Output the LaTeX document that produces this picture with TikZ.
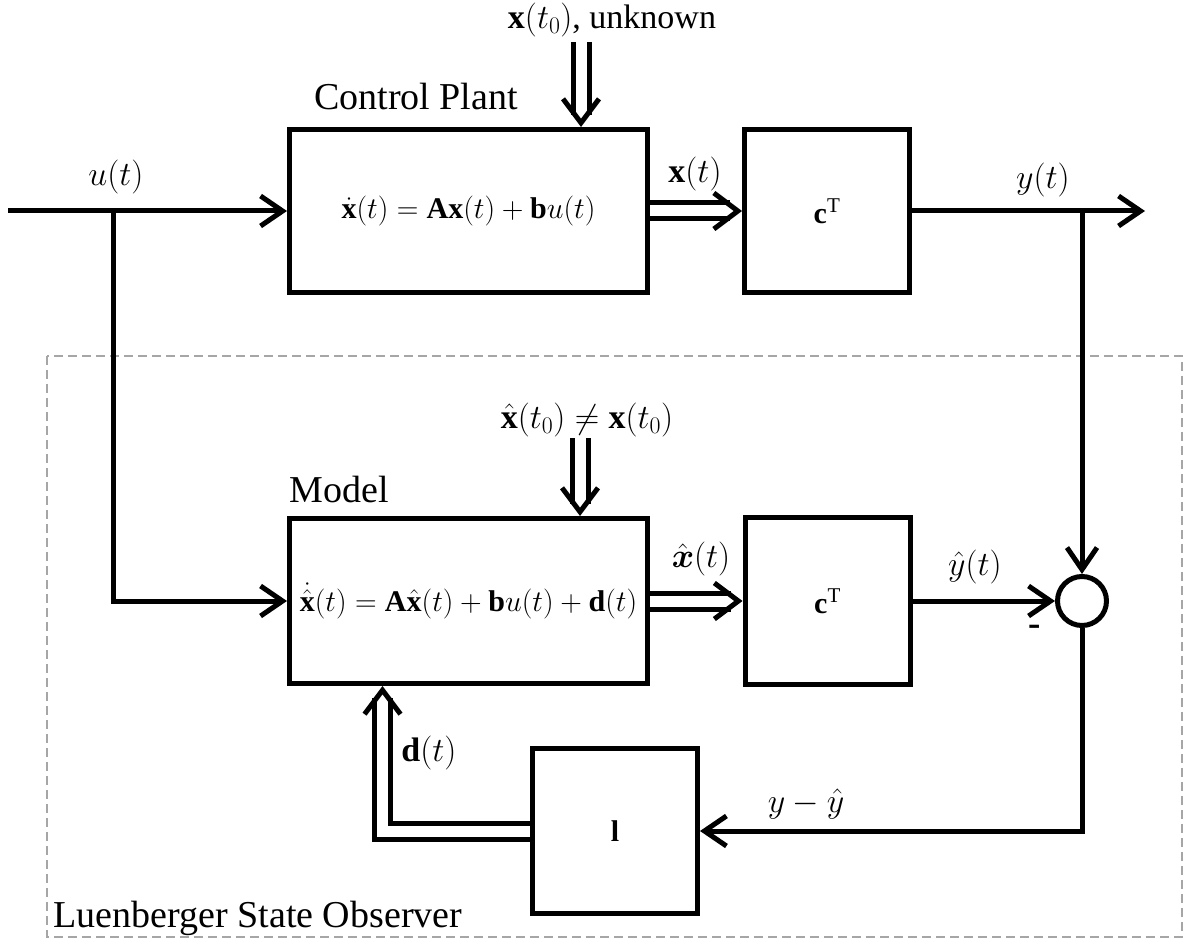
\RequirePackage{fix-cm}
\documentclass[tikz,border=0pt]{standalone}
\usepackage{amsmath}
\usepackage{fontspec}
\setmainfont{Liberation Serif}
\usetikzlibrary{positioning, calc, arrows.meta}
\tikzset{
  blk/.style={draw, line width=5pt, rectangle, inner sep=0pt},
  sig/.style={line width=5pt, -{Straight Barb[length=22pt, width=30pt]}},
  dbl/.style={double, double distance=11pt, line width=5pt, shorten >=12pt},
  dbltip/.style={draw=white, line width=5pt, shorten <=20pt, -{Straight Barb[color=black, length=24pt, width=36pt]}},
  lbl/.style={font=\fontsize{34}{40}\selectfont},
  ttl/.style={font=\fontsize{38}{42}\selectfont},
  eqn/.style={font=\fontsize{30}{36}\selectfont},
  gain/.style={font=\fontsize{30}{32}\selectfont},
}

\begin{document}
\begin{tikzpicture}[x=1pt, y=-1pt]
    \useasboundingbox (0,0) rectangle (1184,941);
    % observer frame
    \draw[gray!70, line width=1.2pt, dash pattern=on 9pt off 5pt] (47,356) rectangle (1182,937);
    \node[ttl, anchor=west] (obs) at (50,918) {Luenberger State Observer};

    % plant
    \node[blk, eqn, minimum width=358pt, minimum height=163pt] (plant) at (468.5,211) {$\dot{\mathbf{x}}(t) = \mathbf{A}\mathbf{x}(t)+\mathbf{b}u(t)$};
    \node[blk, gain, minimum width=165pt, minimum height=163pt] (ctop) at (827,211) {$\mathbf{c}^{\mathrm{T}}$};
    \node[ttl] (plantTtl) at (416,97) {Control Plant};
    \node[lbl] (xzero) at (612,20) {$\mathbf{x}(t_0)$, unknown};
    \coordinate (xin) at (581,42);
    \draw[dbl] (xin) -- (xin |- plant.north);
    \draw[dbltip] (xin) -- (xin |- plant.north);

    % input
    \coordinate (uin) at (8,211);
    \coordinate (utap) at (113,211);
    \node[lbl] (ulbl) at (116,177) {$u(t)$};

    \draw[dbl] (plant.east) -- (ctop.west);
    \draw[dbltip] (plant.east) -- (ctop.west);
    \node[lbl] (xlbl) at (695,174) {$\mathbf{x}(t)$};

    % model
    \node[blk, eqn, minimum width=358pt, minimum height=165pt] (model) at (468.5,601) {$\dot{\hat{\mathbf{x}}}(t) = \mathbf{A}\hat{\mathbf{x}}(t)+\mathbf{b}u(t)+\mathbf{d}(t)$};
    \node[blk, gain, minimum width=165pt, minimum height=167pt] (cbot) at (827.5,601) {$\mathbf{c}^{\mathrm{T}}$};
    \node[ttl] (modelTtl) at (339,490) {Model};
    \node[lbl] (xhzero) at (587,420) {$\hat{\mathbf{x}}(t_0)\neq\mathbf{x}(t_0)$};
    \coordinate (xhin) at (580,438);
    \draw[dbl] (xhin) -- (xhin |- model.north);
    \draw[dbltip] (xhin) -- (xhin |- model.north);

    \draw[sig] (uin) -- (plant.west);
    \draw[sig] (utap) |- (model.west);

    \draw[dbl] (model.east) -- (cbot.west);
    \draw[dbltip] (model.east) -- (cbot.west);
    \node[lbl] (xhlbl) at (701,559) {$\hat{\boldsymbol{x}}(t)$};

    % comparator
    \node[draw, circle, line width=5pt, minimum size=49pt, inner sep=0pt] (sum) at (1082,601) {};
    \coordinate (yout) at (1145,211);
    \draw[sig] (ctop.east) -- (yout);
    \node[lbl] (ylbl) at (1043,180) {$y(t)$};
    \draw[sig] (sum.north |- ctop.east) -- (sum.north);
    \draw[sig] (cbot.east) -- (sum.west);
    \node[lbl] (yhlbl) at (975,567) {$\hat{y}(t)$};
    \node[font=\bfseries\fontsize{37}{40}\selectfont] (minus) at (1035,630) {-};

    % gain
    \node[blk, gain, minimum width=165pt, minimum height=165pt] (lbox) at (615,831) {$\mathbf{l}$};
    \draw[sig] (sum.south) |- (lbox.east);
    \node[lbl] (errlbl) at (806,804) {$y-\hat{y}$};
    \coordinate (dport) at ($(model.south west)+(95.5,0)$);
    \draw[dbl] (lbox.west) -| (dport);
    \draw[dbltip] (lbox.west) -| (dport);
    \node[lbl] (dlbl) at (429,753) {$\mathbf{d}(t)$};
\end{tikzpicture}
\end{document}
